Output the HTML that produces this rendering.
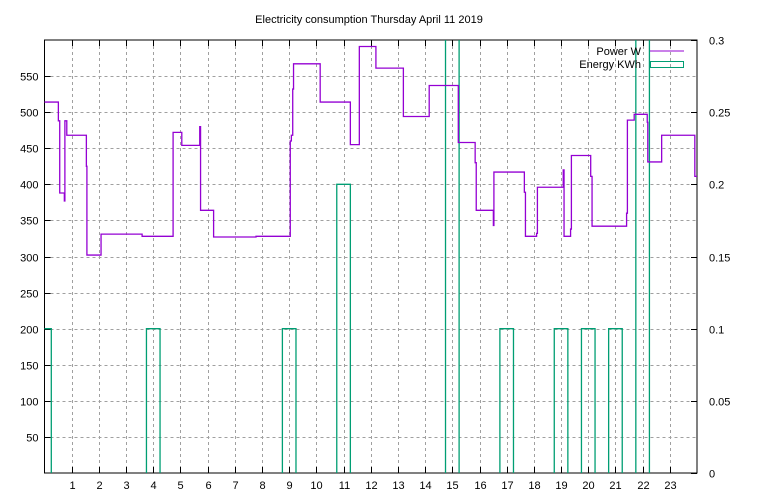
<!DOCTYPE html>
<html><head><meta charset="utf-8"><style>
body{margin:0;background:#fff}
svg{display:block;font-family:"Liberation Sans","DejaVu Sans",sans-serif}
</style></head><body>
<svg id="chart" width="768" height="500" xmlns="http://www.w3.org/2000/svg">
<text x="369" y="23" font-size="11" text-anchor="middle">Electricity consumption Thursday April 11 2019</text>
<g id="grid"></g>
<g id="axes"></g>
<g id="series"></g>
<g font-size="11">
<text x="641" y="55" text-anchor="end">Power W</text>
<line x1="650" y1="51" x2="684" y2="51" stroke="#9400d3" stroke-width="1"/>
<text x="641" y="68" text-anchor="end">Energy KWh</text>
<rect x="650.5" y="61.5" width="33" height="6" fill="none" stroke="#009e73" stroke-width="1"/>
</g>
</svg>
<script>
const powerHours=[0,0.51,0.56,0.73,0.75,0.82,1.54,1.56,2.08,3.59,4.73,5.05,5.71,5.74,6.22,7.78,9.04,9.08,9.13,9.16,10.14,11.25,11.58,12.19,13.20,14.15,15.22,15.84,15.88,16.51,16.53,17.65,17.69,18.10,18.13,19.08,19.11,19.35,19.38,20.09,20.14,21.41,21.44,21.69,22.17,22.19,22.70,23.92,24];
const powerWatts=[514,488,388,377,488,468,425,302,331,328,472,454,480,364,327,328,460,468,532,567,514,455,591,561,494,537,458,430,364,343,417,389,328,332,396,420,328,338,440,411,342,360,489,497,486,431,468,411,411];
const energyHours=[0,4,9,11,15,17,19,20,21,22];
const energyKwh=[0.1,0.1,0.1,0.2,0.4,0.1,0.1,0.1,0.1,0.4];
const leftTicks=[50,100,150,200,250,300,350,400,450,500,550];
const rightTicks=["0","0.05","0.1","0.15","0.2","0.25","0.3"];
const hourTicks=[1,2,3,4,5,6,7,8,9,10,11,12,13,14,15,16,17,18,19,20,21,22,23];

const L=44.5,R=697,T=40,B=473;
const xs=h=>L+(h/24)*(R-L);
const yl=w=>B-(w/600)*(B-T);
const yr=e=>B-(e/0.3)*(B-T);
const NS="http://www.w3.org/2000/svg";
function mk(tag,attrs,parent){const e=document.createElementNS(NS,tag);for(const k in attrs)e.setAttribute(k,attrs[k]);parent.appendChild(e);return e;}
const grid=document.getElementById('grid'),axes=document.getElementById('axes'),series=document.getElementById('series');

leftTicks.forEach(v=>{
  const y=Math.round(yl(v))+0.5;
  const g=mk('line',{x1:L,y1:y,x2:R,y2:y,stroke:'#a0a0a0','stroke-dasharray':'3,3','stroke-width':1},grid);
  
  
  const t=mk('line',{x1:L,y1:y,x2:L+6,y2:y,stroke:'#000'},axes);
  
  
  const tx=mk('text',{x:L-6,y:y+4,'font-size':11,'text-anchor':'end'},axes);
  tx.textContent=v;
  
  
});
rightTicks.forEach(v=>{
  const y=Math.round(yr(parseFloat(v)))+0.5;
  const t=mk('line',{x1:R-6,y1:y,x2:R,y2:y,stroke:'#000'},axes);
  
  
  const tx=mk('text',{x:R+12,y:y+4,'font-size':11},axes);
  tx.textContent=v;
  
  
});
hourTicks.forEach(h=>{
  const x=Math.round(xs(h))+0.5;
  const g=mk('line',{x1:x,y1:T,x2:x,y2:B,stroke:'#a0a0a0','stroke-dasharray':'3,3','stroke-width':1},grid);
  
  
  const t1=mk('line',{x1:x,y1:B,x2:x,y2:B-6,stroke:'#000'},axes);
  
  
  const t2=mk('line',{x1:x,y1:T,x2:x,y2:T+6,stroke:'#000'},axes);
  
  
  const tx=mk('text',{x:x,y:B+16,'font-size':11,'text-anchor':'middle'},axes);
  tx.textContent=h;
  
  
});
const frame=mk('rect',{x:L,y:T,width:R-L,height:B-T,fill:'none',stroke:'#000','stroke-width':1},axes);



const clip=mk('clipPath',{id:'pc'},document.getElementById('chart'));
mk('rect',{x:L,y:T,width:R-L,height:B-T},clip);
series.setAttribute('clip-path','url(#pc)');

energyHours.forEach((h,i)=>{
  const x1=xs(h-0.25),x2=xs(h+0.25),y=yr(energyKwh[i]);
  const p=mk('path',{d:`M${x1},${B} L${x1},${y} L${x2},${y} L${x2},${B}`,fill:'none',stroke:'#009e73','stroke-width':1.3},series);
  
  
});
let d='';
for(let i=0;i<powerHours.length;i++){
  const x=xs(powerHours[i]),y=yl(powerWatts[i]);
  if(i===0)d+=`M${x},${y}`;else d+=` H${x} V${y}`;
}
const pl=mk('path',{d:d,fill:'none',stroke:'#9400d3','stroke-width':1.3},series);


</script>
</body></html>
